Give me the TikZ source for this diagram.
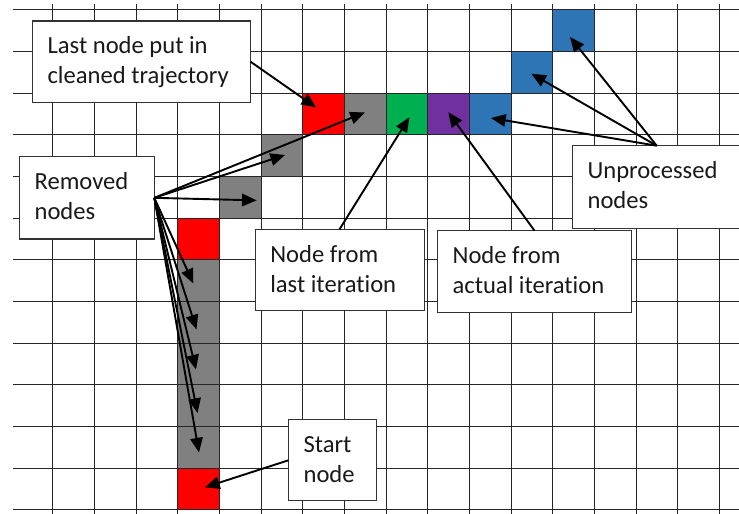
\documentclass[tikz,border=0pt]{standalone}
\usepackage{fontspec}
\setmainfont{Carlito}[Ligatures={NoCommon,NoContextual}]
\usetikzlibrary{arrows.meta,calc}

\definecolor{cellred}{HTML}{FF0000}
\definecolor{cellgray}{HTML}{808080}
\definecolor{cellgreen}{HTML}{00B050}
\definecolor{cellpurple}{HTML}{7030A0}
\definecolor{cellblue}{HTML}{2E75B6}

% two left-aligned lines whose baseline is the first line
\newcommand{\calllines}[2]{\begin{tabular}[t]{@{}l@{}}#1\\#2\end{tabular}}

\tikzset{
  gridline/.style={line width=0.7pt, draw=black!85},
  cell/.style={minimum size=1cm, inner sep=0pt, outer sep=0pt, anchor=south west},
  callout/.style={draw=black!80, line width=0.7pt, fill=white, inner sep=0pt,
    outer sep=0pt, anchor=north west},
  calltext/.style={anchor=base west, inner sep=0pt, text=black!90,
    font=\fontsize{16.8}{20.5}\selectfont},
  pointer/.style={line width=1.3pt, draw=black, -{Triangle[length=10pt,width=8.5pt]}},
}

\begin{document}
\begin{tikzpicture}
\useasboundingbox (-1.265,-0.096) rectangle (16.470,12.239);
\clip (-1.265,-0.096) rectangle (16.470,12.239);
\fill[white] (-1.265,-0.096) rectangle (16.470,12.239);

% trajectory cells
\node[cell, fill=cellred]    (start) at (3,0) {};
\node[cell, fill=cellgray]   (g1) at (3,1) {};
\node[cell, fill=cellgray]   (g2) at (3,2) {};
\node[cell, fill=cellgray]   (g3) at (3,3) {};
\node[cell, fill=cellgray]   (g4) at (3,4) {};
\node[cell, fill=cellgray]   (g5) at (3,5) {};
\node[cell, fill=cellred]    (r6) at (3,6) {};
\node[cell, fill=cellgray]   (g7) at (4,7) {};
\node[cell, fill=cellgray]   (g8) at (5,8) {};
\node[cell, fill=cellred]    (last) at (6,9) {};
\node[cell, fill=cellgray]   (g9) at (7,9) {};
\node[cell, fill=cellgreen]  (prev) at (8,9) {};
\node[cell, fill=cellpurple] (cur) at (9,9) {};
\node[cell, fill=cellblue]   (u1) at (10,9) {};
\node[cell, fill=cellblue]   (u2) at (11,10) {};
\node[cell, fill=cellblue]   (u3) at (12,11) {};

% grid
\foreach \y in {0,...,12}
  \draw[gridline] (-0.953,\y) -- (16.47,\y);
\foreach \x in {0,...,16}
  \draw[gridline] (\x,-0.096) -- (\x,12.143);

% callout boxes
\node[callout, minimum width=5.242cm, minimum height=1.960cm] (bLast) at (-0.490,11.735) {};
\node[callout, minimum width=3.240cm, minimum height=1.976cm] (bRem) at (-0.802,8.479) {};
\node[callout, minimum width=4.049cm, minimum height=1.983cm] (bUnp) at (12.469,8.743) {};
\node[callout, minimum width=4.056cm, minimum height=1.960cm] (bPrev) at (4.855,6.736) {};
\node[callout, minimum width=4.665cm, minimum height=1.959cm] (bCur) at (9.230,6.703) {};
\node[callout, minimum width=2.121cm, minimum height=1.937cm] (bStart) at (5.654,2.160) {};

\node[calltext] (tLast) at ([shift={(0.36,-0.79)}]bLast.north west)
  {\calllines{Last node put in}{cleaned trajectory}};
\node[calltext] (tRem) at ([shift={(0.36,-0.79)}]bRem.north west)
  {\calllines{Removed}{nodes}};
\node[calltext] (tUnp) at ([shift={(0.36,-0.79)}]bUnp.north west)
  {\calllines{Unprocessed}{nodes}};
\node[calltext] (tPrev) at ([shift={(0.36,-0.79)}]bPrev.north west)
  {\calllines{Node from}{last iteration}};
\node[calltext] (tCur) at ([shift={(0.36,-0.79)}]bCur.north west)
  {\calllines{Node from}{actual iteration}};
\node[calltext] (tStart) at ([shift={(0.36,-0.79)}]bStart.north west)
  {\calllines{Start}{node}};

% pointers
\draw[pointer] (bLast.east) -- ([shift={(0.32,0.66)}]last.south west);

\draw[pointer] (bRem.east) -- ([shift={(0.49,0.54)}]g9.south west);
\draw[pointer] (bRem.east) -- ([shift={(0.575,0.52)}]g8.south west);
\draw[pointer] (bRem.east) -- ([shift={(0.895,0.43)}]g7.south west);
\draw[pointer] (bRem.east) -- ([shift={(0.374,0.436)}]g5.south west);
\draw[pointer] (bRem.east) -- ([shift={(0.451,0.332)}]g4.south west);
\draw[pointer] (bRem.east) -- ([shift={(0.439,0.372)}]g3.south west);
\draw[pointer] (bRem.east) -- ([shift={(0.475,0.328)}]g2.south west);
\draw[pointer] (bRem.east) -- ([shift={(0.511,0.380)}]g1.south west);

\draw[pointer] (bPrev.north) -- ([shift={(0.558,0.424)}]prev.south west);
\draw[pointer] (bCur.north) -- ([shift={(0.494,0.544)}]cur.south west);

\draw[pointer] (bUnp.north) -- ([shift={(0.518,0.407)}]u1.south west);
\draw[pointer] (bUnp.north) -- ([shift={(0.486,0.471)}]u2.south west);
\draw[pointer] (bUnp.north) -- ([shift={(0.414,0.351)}]u3.south west);

\draw[pointer] (bStart.west) -- ([shift={(0.655,0.545)}]start.south west);
\end{tikzpicture}
\end{document}
